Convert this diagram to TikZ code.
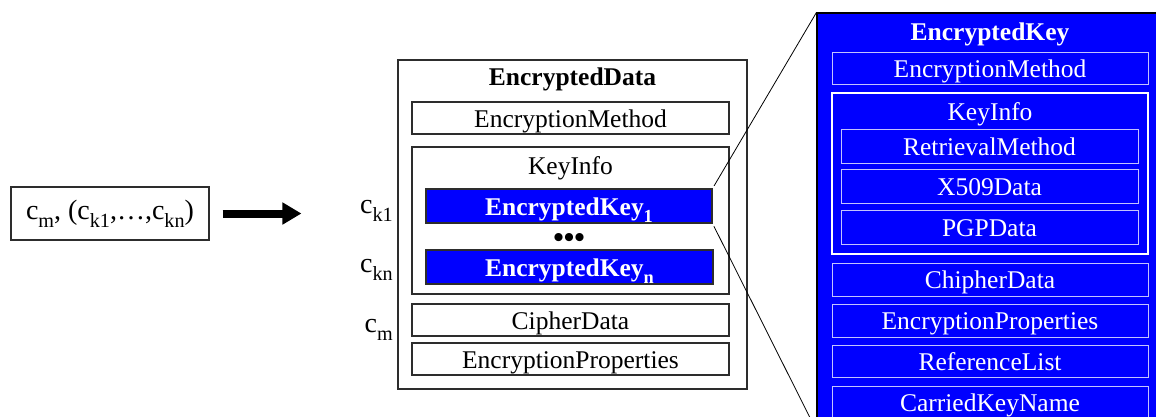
\documentclass[tikz,border=0pt]{standalone}
\usepackage{fontspec}
\setmainfont{Liberation Serif}
\usetikzlibrary{arrows.meta,positioning}

\definecolor{ekblue}{RGB}{0,0,255}
\definecolor{lav}{RGB}{195,195,255}
\definecolor{frame}{RGB}{45,45,45}

% lowered index as in the drawing
\newcommand{\lo}[1]{\raisebox{-0.3em}{\scalebox{0.72}{#1}}}

\begin{document}
\begin{tikzpicture}[
  x=1pt, y=-1pt,
  every node/.style={font=\fontsize{25.5}{28}\selectfont, inner sep=0pt},
  boxtext/.style={text height=23pt, text depth=5pt},
  plain/.style={boxtext, draw=frame, line width=1.1pt, minimum width=317pt, minimum height=32pt},
  keybar/.style={boxtext, draw=frame, line width=1.1pt, fill=ekblue, text=white,
                 font=\fontsize{25.5}{28}\selectfont\bfseries, minimum width=286pt, minimum height=34pt},
  inbox/.style={boxtext, draw=lav, line width=1pt, text=white, minimum width=316pt, minimum height=32pt},
  subbox/.style={inbox, minimum width=297pt, minimum height=34pt},
  cval/.style={font=\fontsize{28}{30}\selectfont, anchor=base east},
  fatarrow/.style={line width=8pt, -{Triangle[length=19pt,width=21pt]}},
  zoomline/.style={line width=0.8pt}
]
  \useasboundingbox (0,0) rectangle (1156,416);
  \clip (0,0) rectangle (1156,416);

  % message
  \node[draw=frame, line width=1.1pt, minimum width=198pt, minimum height=53pt,
        font=\fontsize{28}{30}\selectfont] (msg) at (110,213.5)
    {c\lo{m}, (c\lo{k1},\ldots,c\lo{kn})};

  % EncryptedData
  \node[draw=frame, line width=1.1pt, minimum width=349pt, minimum height=329pt] (ed) at (572.5,224.5) {};
  \node[font=\fontsize{25.5}{28}\selectfont\bfseries] (edtitle) at (572.5,79) {EncryptedData};
  \node[plain] (em) at (570.5,118) {EncryptionMethod};
  \node[plain, minimum height=147pt] (ki) at (570.5,220.5) {};
  \node (kititle) at (570.5,168) {KeyInfo};
  \node[keybar] (ek1) at (569,206) {EncryptedKey\lo{1}};
  \node[font=\fontsize{30}{30}\selectfont\bfseries] (dots) at (569,240) {•••};
  \node[keybar, minimum width=287pt] (ekn) at (569.5,267) {EncryptedKey\lo{n}};
  \node[plain] (cd) at (570.5,320) {CipherData};
  \node[plain] (ep) at (570.5,359) {EncryptionProperties};

  \node[cval] (ck1lbl) at (393,213) {c\lo{k1}};
  \node[cval] (cknlbl) at (393,272) {c\lo{kn}};
  \node[cval] (cmlbl) at (393,332) {c\lo{m}};

  \draw[fatarrow, shorten <=13pt, shorten >=96pt] (msg.east) -- (ed.west |- msg.east);

  % EncryptedKey in detail
  \node[draw=black, line width=1.1pt, fill=ekblue, minimum width=346pt, minimum height=417pt] (ekbox) at (990,221.5) {};
  \node[text=white, font=\fontsize{25.5}{28}\selectfont\bfseries] (ektitle) at (990,34) {EncryptedKey};
  \node[inbox] (rem) at (990,68) {EncryptionMethod};
  \node[inbox, draw=white, line width=1.6pt, minimum height=161pt] (rki) at (990,173.5) {};
  \node[text=white] (rkititle) at (990,114) {KeyInfo};
  \node[subbox] (rrm) at (989.5,146) {RetrievalMethod};
  \node[subbox, below=5pt of rrm] (rx5) {X509Data};
  \node[subbox, below=6pt of rx5] (rpgp) {PGPData};
  \node[inbox, minimum height=33pt, below=8pt of rki] (rcd) {ChipherData};
  \node[inbox, minimum height=33pt, below=7pt of rcd] (rep) {EncryptionProperties};
  \node[inbox, below=7pt of rep] (rrl) {ReferenceList};
  \node[inbox, below=8pt of rrl] (rck) {CarriedKeyName};

  \draw[zoomline, shorten <=3pt] (ek1.north east) -- (ekbox.north west);
  \draw[zoomline, shorten <=3pt] (ek1.south east) -- (ekbox.south west);
\end{tikzpicture}
\end{document}
